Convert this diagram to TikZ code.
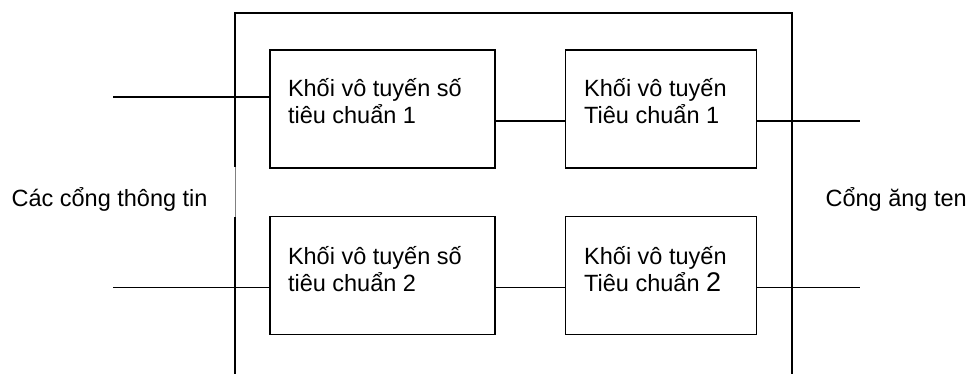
\documentclass[tikz,border=0pt]{standalone}
\usepackage{fontspec}
\setmainfont{Liberation Sans}
\usetikzlibrary{positioning}

\begin{document}
\begin{tikzpicture}[x=1pt, y=-1pt, line width=1.2pt, node distance=69pt,
    blk/.style={draw, rectangle, inner sep=0pt, minimum height=118pt},
    lbl/.style={anchor=base west, inner sep=0pt, align=left, font=\fontsize{23.5}{27}\selectfont}]
        \useasboundingbox (0,0) rectangle (971,374);
        % Outer frame
        \coordinate (ftl) at (235,13);
        \coordinate (ftr) at (792,13);
        \coordinate (fbl) at (235,374);
        \coordinate (fbr) at (792,374);
        \coordinate (gap1) at (235,167);
        \coordinate (gap2) at (235,217);
        \draw (gap1) -- (ftl) -- (ftr) -- (fbr);
        \draw (gap2) -- (fbl);
        \draw[gray, line width=0.5pt] (gap1) -- (gap2);
        % Blocks
        \node[blk, minimum width=225pt] (b1) at (382.5,109) {};
        \node[blk, minimum width=191pt, right=of b1] (b2) {};
        \node[blk, minimum width=225pt, below=47pt of b1] (b3) {};
        \node[blk, minimum width=191pt, right=of b3] (b4) {};
        % Block texts
        \node[lbl, xshift=18pt, yshift=-74pt] (t1) at (b1.north west) {Khối vô tuyến số\\tiêu chuẩn 1};
        \node[lbl, xshift=19pt, yshift=-74pt] (t2) at (b2.north west) {Khối vô tuyến\\Tiêu chuẩn 1};
        \node[lbl, xshift=18pt, yshift=-76pt] (t3) at (b3.north west) {Khối vô tuyến số\\tiêu chuẩn 2};
        \node[lbl, xshift=19pt, yshift=-76pt] (t4) at (b4.north west) {Khối vô tuyến\\Tiêu chuẩn \fontsize{27}{27}\selectfont 2};
        % Port labels
        \node[lbl] (ports) at (11,206) {Các cổng thông tin};
        \node[lbl] (ant) at (825,206) {Cổng ăng ten};
        % Port ends
        \coordinate (in1) at (113,97);
        \coordinate (in2) at ([yshift=-12pt]b3.west -| 113,0);
        \coordinate (out1) at ([yshift=-12pt]b2.east -| 860,0);
        \coordinate (out2) at ([yshift=-12pt]b4.east -| 860,0);
        % Edges
        \draw (in1) -- ([yshift=12pt]b1.west);
        \draw ([yshift=-12pt]b1.east) -- ([yshift=-12pt]b2.west);
        \draw ([yshift=-12pt]b2.east) -- (out1);
        \draw (in2) -- ([yshift=-12pt]b3.west);
        \draw ([yshift=-12pt]b3.east) -- ([yshift=-12pt]b4.west);
        \draw ([yshift=-12pt]b4.east) -- (out2);
\end{tikzpicture}
\end{document}
